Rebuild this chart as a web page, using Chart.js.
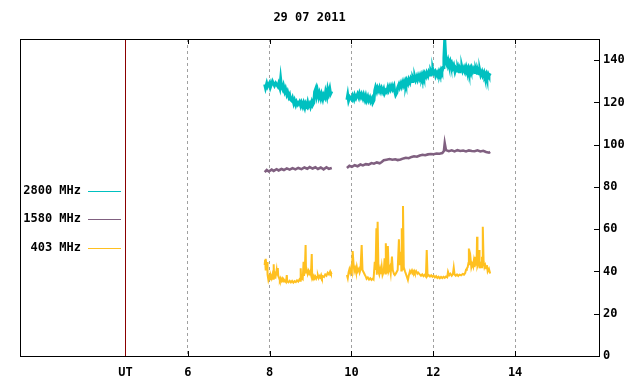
<!DOCTYPE html>
<html>
<head>
<meta charset="utf-8">
<script src="https://cdn.jsdelivr.net/npm/chart.js@4.4.0/dist/chart.umd.min.js"></script>
<style>
  body { margin: 0; background: #fff; }
  canvas { display: block; }
</style>
</head>
<body>
<canvas id="radio" width="640" height="384"></canvas>
<script>
// 29 07 2011, solar radio flux, UT hours
const title = '29 07 2011';
const utPos = 4.48;
const xTicks = [6, 8, 10, 12, 14];
const yTicks = [0, 20, 40, 60, 80, 100, 120, 140];
const names = ['2800 MHz', '1580 MHz', '403 MHz'];
const colors = ['#00c0c0', '#806080', '#ffc020'];

const hours2800 = [7.88, 7.90, 7.93, 7.95, 8.00, 8.02, 8.05, 8.07, 8.12, 8.15, 8.20, 8.22, 8.25, 8.27, 8.29, 8.32, 8.34, 8.37, 8.39, 8.42,
  8.44, 8.47, 8.49, 8.51, 8.54, 8.56, 8.59, 8.61, 8.64, 8.66, 8.69, 8.73, 8.76, 8.78, 8.81, 8.83, 8.86, 8.88, 8.91, 8.93,
  8.95, 8.98, 9.00, 9.03, 9.05, 9.08, 9.10, 9.13, 9.15, 9.17, 9.20, 9.22, 9.25, 9.27, 9.30, 9.32, 9.35, 9.37, 9.40, 9.42,
  9.44, 9.47, 9.49, 9.52, 9.70,
  9.89, 9.91, 9.93, 9.96, 10.01, 10.03, 10.06, 10.08, 10.11, 10.15, 10.18, 10.20, 10.23, 10.25, 10.28, 10.30, 10.33, 10.35, 10.37, 10.40,
  10.42, 10.45, 10.47, 10.50, 10.52, 10.55, 10.57, 10.59, 10.62, 10.64, 10.67, 10.69, 10.72, 10.74, 10.77, 10.79, 10.81, 10.84, 10.86, 10.89,
  10.91, 10.94, 10.96, 10.99, 11.01, 11.04, 11.06, 11.08, 11.11, 11.13, 11.16, 11.18, 11.21, 11.23, 11.26, 11.28, 11.31, 11.33, 11.35, 11.38,
  11.40, 11.43, 11.45, 11.48, 11.50, 11.53, 11.55, 11.57, 11.60, 11.62, 11.65, 11.67, 11.70, 11.72, 11.75, 11.77, 11.79, 11.82, 11.84, 11.87,
  11.89, 11.92, 11.94, 11.97, 11.99, 12.01, 12.04, 12.06, 12.09, 12.11, 12.14, 12.16, 12.19, 12.21, 12.24, 12.26, 12.28, 12.31, 12.33, 12.36,
  12.38, 12.41, 12.43, 12.45, 12.48, 12.50, 12.53, 12.55, 12.58, 12.60, 12.63, 12.65, 12.68, 12.70, 12.72, 12.75, 12.77, 12.80, 12.82, 12.85,
  12.87, 12.90, 12.92, 12.94, 12.97, 12.99, 13.02, 13.04, 13.07, 13.09, 13.12, 13.14, 13.16, 13.19, 13.21, 13.24, 13.26, 13.29, 13.31, 13.34,
  13.36, 13.39];
const flux2800 = [128.5, 126.8, 129.0, 127.5, 129.3, 127.2, 128.8, 130.0, 127.9, 129.1, 127.6, 128.9, 126.9, 131.0, 127.5, 126.2, 127.8, 125.2, 126.4, 123.8,
  124.9, 122.6, 123.5, 121.4, 120.8, 122.0, 119.6, 120.9, 118.9, 120.2, 119.0, 120.3, 118.4, 119.8, 118.1, 119.6, 117.6, 119.5, 118.3, 120.0,
  118.2, 119.4, 118.0, 120.1, 118.7, 119.8, 125.0, 126.6, 123.5, 125.5, 122.6, 124.3, 122.0, 123.8, 121.6, 123.5, 122.3, 125.0, 122.8, 126.0,
  124.2, 126.5, 124.0, 125.2, null,
  121.2, 123.5, 120.8, 122.6, 121.3, 123.0, 121.5, 123.4, 122.0, 124.0, 122.4, 124.2, 122.6, 123.8, 122.0, 123.5, 121.4, 122.9, 121.0, 122.6,
  120.9, 122.2, 120.5, 121.8, 119.8, 121.0, 125.6, 127.2, 125.3, 126.9, 125.5, 127.0, 125.2, 126.6, 125.0, 126.2, 124.3, 125.6, 125.0, 127.2,
  125.8, 127.5, 126.2, 127.8, 126.4, 127.8, 125.0, 123.5, 124.6, 127.0, 128.5, 127.2, 129.0, 127.6, 129.6, 128.2, 130.0, 128.6, 130.4, 129.0,
  130.8, 129.4, 131.2, 129.9, 131.6, 130.2, 132.0, 130.6, 132.3, 130.8, 132.6, 131.3, 133.0, 131.6, 133.4, 132.0, 133.6, 132.3, 134.0, 132.6,
  134.3, 133.0, 134.8, 133.4, 135.5, 133.8, 134.6, 132.6, 134.0, 132.8, 134.6, 133.5, 135.4, 134.4, 136.5, 141.0, 150.0, 139.0, 138.0, 140.0,
  138.2, 139.6, 137.8, 138.6, 136.5, 137.5, 134.6, 136.0, 134.8, 136.3, 134.5, 136.2, 135.0, 136.6, 134.9, 136.4, 135.0, 136.8, 135.2, 136.5,
  134.6, 136.2, 135.0, 136.4, 134.8, 135.8, 134.2, 135.6, 133.8, 135.2, 133.5, 134.8, 133.0, 134.5, 132.8, 134.2, 132.4, 133.6, 131.8, 133.5,
  132.6, 133.8];

const hours1580 = [7.88, 7.93, 7.98, 8.05, 8.10, 8.17, 8.22, 8.29, 8.35, 8.42, 8.49, 8.56, 8.63, 8.70, 8.78, 8.85, 8.92, 8.98, 9.05, 9.12,
  9.18, 9.25, 9.32, 9.39, 9.45, 9.52, 9.70,
  9.89, 9.95, 10.01, 10.08, 10.15, 10.22, 10.28, 10.35, 10.42, 10.49, 10.55, 10.62, 10.69, 10.74, 10.79, 10.86, 10.93, 11.00, 11.07, 11.13,
  11.20, 11.27, 11.33, 11.40, 11.47, 11.53, 11.60, 11.67, 11.74, 11.80, 11.87, 11.94, 12.01, 12.08, 12.15, 12.22, 12.26, 12.28, 12.31, 12.38,
  12.45, 12.52, 12.59, 12.66, 12.73, 12.80, 12.87, 12.94, 13.01, 13.08, 13.15, 13.22, 13.29, 13.36, 13.39];
const flux1580 = [87.0, 88.0, 87.3, 88.2, 87.6, 88.4, 87.8, 88.5, 88.0, 88.8, 88.2, 88.9, 88.3, 89.0, 88.4, 89.2, 88.6, 89.4, 88.7, 89.3,
  88.5, 89.2, 88.3, 89.3, 88.6, 89.0, null,
  89.0, 90.0, 89.5, 90.3, 89.8, 90.6, 90.2, 90.8, 90.6, 91.3, 91.0, 91.6, 91.2, 91.8, 92.6, 92.9, 93.2, 92.9, 93.1, 92.7,
  93.0, 93.5, 93.8, 93.6, 94.2, 94.5, 94.3, 94.9, 95.2, 95.0, 95.4, 95.6, 95.5, 95.8, 95.7, 96.0, 97.0, 100.6, 97.4, 96.9,
  97.3, 96.8, 97.4, 97.0, 97.2, 96.8, 97.3, 97.0, 96.9, 97.3, 96.8, 97.1, 96.5, 96.2, 96.6];

const hours403 = [7.88, 7.89, 7.90, 7.91, 7.93, 7.94, 7.95, 7.97, 7.99, 8.01, 8.03, 8.05, 8.07, 8.09, 8.10, 8.11, 8.13, 8.15, 8.17, 8.18,
  8.20, 8.21, 8.23, 8.25, 8.27, 8.29, 8.31, 8.33, 8.35, 8.40, 8.42, 8.43, 8.46, 8.49, 8.52, 8.55, 8.58, 8.61, 8.64, 8.67,
  8.70, 8.73, 8.75, 8.76, 8.77, 8.79, 8.81, 8.83, 8.84, 8.86, 8.88, 8.89, 8.91, 8.93, 8.95, 8.97, 8.99, 9.01, 9.03, 9.04,
  9.06, 9.08, 9.10, 9.12, 9.14, 9.16, 9.18, 9.20, 9.22, 9.24, 9.26, 9.28, 9.30, 9.33, 9.36, 9.39, 9.42, 9.45, 9.48, 9.50,
  9.52, 9.70,
  9.89, 9.91, 9.93, 9.95, 9.97, 9.99, 10.01, 10.03, 10.05, 10.07, 10.09, 10.11, 10.13, 10.15, 10.18, 10.20, 10.22, 10.25, 10.27, 10.30,
  10.33, 10.35, 10.37, 10.40, 10.43, 10.46, 10.49, 10.52, 10.54, 10.57, 10.59, 10.61, 10.62, 10.64, 10.66, 10.68, 10.70, 10.72, 10.74, 10.76,
  10.79, 10.81, 10.83, 10.84, 10.86, 10.87, 10.89, 10.91, 10.94, 10.96, 10.99, 11.01, 11.04, 11.06, 11.09, 11.13, 11.16, 11.18, 11.21, 11.22,
  11.23, 11.24, 11.26, 11.28, 11.31, 11.35, 11.38, 11.40, 11.43, 11.45, 11.48, 11.50, 11.53, 11.55, 11.58, 11.61, 11.63, 11.67, 11.70, 11.73,
  11.76, 11.79, 11.82, 11.84, 11.86, 11.89, 11.92, 11.95, 11.98, 12.01, 12.04, 12.07, 12.10, 12.13, 12.16, 12.19, 12.22, 12.25, 12.28, 12.31,
  12.34, 12.36, 12.39, 12.42, 12.45, 12.48, 12.50, 12.52, 12.55, 12.58, 12.61, 12.64, 12.68, 12.72, 12.75, 12.78, 12.80, 12.82, 12.84, 12.86,
  12.87, 12.89, 12.91, 12.93, 12.95, 12.97, 12.99, 13.01, 13.02, 13.04, 13.06, 13.07, 13.08, 13.10, 13.12, 13.13, 13.15, 13.17, 13.19, 13.20,
  13.21, 13.23, 13.25, 13.27, 13.29, 13.31, 13.33, 13.36, 13.39];
const flux403 = [43.0, 45.5, 40.5, 46.0, 41.0, 44.5, 38.5, 36.0, 37.5, 36.3, 38.0, 36.8, 38.5, 36.5, 43.4, 37.0, 39.0, 38.0, 40.5, 38.2,
  41.6, 38.0, 37.0, 35.8, 36.8, 35.6, 36.5, 35.3, 36.2, 35.0, 38.3, 35.4, 34.9, 35.6, 34.8, 35.5, 34.7, 35.4, 35.0, 35.8,
  35.2, 36.2, 35.6, 41.5, 36.3, 37.0, 36.5, 44.6, 38.0, 40.0, 52.5, 39.5, 40.5, 38.8, 40.2, 39.0, 40.0, 38.5, 48.2, 38.0,
  37.2, 38.0, 36.8, 37.6, 36.6, 37.4, 38.2, 36.9, 37.8, 37.2, 38.3, 37.0, 37.8, 37.4, 38.6, 38.0, 39.4, 38.6, 40.0, 39.0,
  39.5, null,
  38.3, 36.8, 39.5, 41.0, 39.5, 41.5, 40.0, 49.7, 44.0, 40.2, 41.5, 39.8, 42.2, 40.0, 41.2, 39.5, 40.8, 52.5, 40.7, 39.5,
  38.3, 37.6, 36.5, 37.2, 36.2, 36.8, 36.0, 36.6, 36.2, 44.6, 40.7, 60.4, 38.5, 63.5, 40.0, 38.6, 41.0, 38.8, 42.2, 38.3,
  40.0, 46.2, 39.0, 53.3, 41.0, 39.5, 52.0, 40.2, 42.0, 39.2, 47.0, 40.7, 38.8, 38.3, 39.2, 40.7, 55.2, 43.0, 49.3, 40.5,
  60.4, 41.0, 71.0, 42.0, 40.0, 37.8, 36.0, 38.0, 40.2, 39.4, 40.6, 39.6, 40.4, 39.3, 40.2, 39.0, 39.5, 38.6, 38.0, 38.6,
  37.8, 38.4, 37.6, 50.1, 37.8, 38.3, 37.6, 38.2, 37.5, 38.0, 37.2, 37.8, 36.9, 37.5, 36.8, 37.4, 36.9, 37.5, 37.0, 37.6,
  37.2, 39.9, 38.2, 38.9, 38.0, 38.8, 41.8, 38.6, 38.0, 38.6, 37.9, 38.5, 38.2, 38.8, 38.5, 39.3, 40.8, 41.5, 42.0, 44.0,
  50.9, 43.0, 46.2, 42.0, 43.5, 42.5, 45.0, 42.0, 47.0, 42.8, 45.0, 56.4, 42.7, 44.0, 50.1, 41.5, 43.5, 42.0, 47.0, 43.0,
  61.2, 44.6, 42.0, 43.0, 41.5, 43.0, 40.0, 41.2, 39.0];

function pairs(xs, ys) {
  return xs.map((x, i) => ({ x: x, y: ys[i] }));
}

const monoFont = { family: '"DejaVu Sans Mono", "Liberation Mono", monospace', size: 12, weight: 'bold' };
const fontCss = 'bold 12px "DejaVu Sans Mono", "Liberation Mono", monospace';

// frame, inner ticks, title and the legend sitting in the left part of the plot
const decor = {
  id: 'decor',
  afterDraw(chart) {
    const ctx = chart.ctx;
    const a = chart.chartArea;
    const xs = chart.scales.x, ys = chart.scales.y;
    ctx.save();
    ctx.strokeStyle = '#000';
    ctx.lineWidth = 1;
    ctx.strokeRect(Math.round(a.left) + 0.5, Math.round(a.top) + 0.5, Math.round(a.right - a.left), Math.round(a.bottom - a.top));
    ctx.beginPath();
    xTicks.forEach(v => {
      const px = Math.round(xs.getPixelForValue(v)) + 0.5;
      ctx.moveTo(px, a.top); ctx.lineTo(px, a.top + 5);
      ctx.moveTo(px, a.bottom); ctx.lineTo(px, a.bottom - 5);
    });
    yTicks.forEach(v => {
      const py = Math.round(ys.getPixelForValue(v)) + 0.5;
      ctx.moveTo(a.right, py); ctx.lineTo(a.right - 5, py);
    });
    ctx.stroke();

    ctx.fillStyle = '#000';
    ctx.font = fontCss;
    ctx.textAlign = 'center';
    ctx.textBaseline = 'middle';
    ctx.fillText(title, (a.left + a.right) / 2, 18);

    ctx.textAlign = 'right';
    const rows = [191, 219, 248];
    names.forEach((n, i) => {
      ctx.fillStyle = '#000';
      ctx.fillText(n, 81, rows[i]);
      ctx.strokeStyle = colors[i];
      ctx.beginPath();
      ctx.moveTo(88, rows[i] + 0.5);
      ctx.lineTo(121, rows[i] + 0.5);
      ctx.stroke();
    });
    ctx.restore();
  }
};

new Chart(document.getElementById('radio'), {
  type: 'scatter',
  data: {
    datasets: [
      { label: names[0], data: pairs(hours2800, flux2800), borderColor: colors[0], borderWidth: 3 },
      { label: names[1], data: pairs(hours1580, flux1580), borderColor: colors[1], borderWidth: 2.6 },
      { label: names[2], data: pairs(hours403, flux403), borderColor: colors[2], borderWidth: 2 }
    ].map(d => Object.assign(d, { showLine: true, pointRadius: 0, spanGaps: false, tension: 0 }))
  },
  options: {
    responsive: false,
    animation: false,
    layout: { padding: { left: 20, top: 39, right: 0, bottom: 0 } },
    plugins: { legend: { display: false }, tooltip: { enabled: false } },
    scales: {
      x: {
        type: 'linear',
        position: 'bottom',
        min: 1.9,
        max: 16.05,
        afterBuildTicks: s => { s.ticks = [utPos].concat(xTicks).map(v => ({ value: v })); },
        afterFit: s => { s.height = 28; },
        ticks: {
          color: '#000',
          font: monoFont,
          padding: 10,
          callback: v => (v === utPos ? 'UT' : String(v))
        },
        grid: {
          drawTicks: false,
          color: c => (c.tick && c.tick.value === utPos ? '#8b0000' : '#a0a0a0'),
          lineWidth: 1
        },
        border: {
          display: false,
          dash: c => (c.tick && c.tick.value === utPos ? [] : [3, 3])
        }
      },
      y: {
        type: 'linear',
        position: 'right',
        min: 0,
        max: 150,
        afterBuildTicks: s => { s.ticks = yTicks.map(v => ({ value: v })); },
        afterFit: s => { s.width = 41; },
        ticks: { color: '#000', font: monoFont, padding: 4 },
        grid: { display: false, drawTicks: false },
        border: { display: false }
      }
    }
  },
  plugins: [decor]
});
</script>
</body>
</html>
